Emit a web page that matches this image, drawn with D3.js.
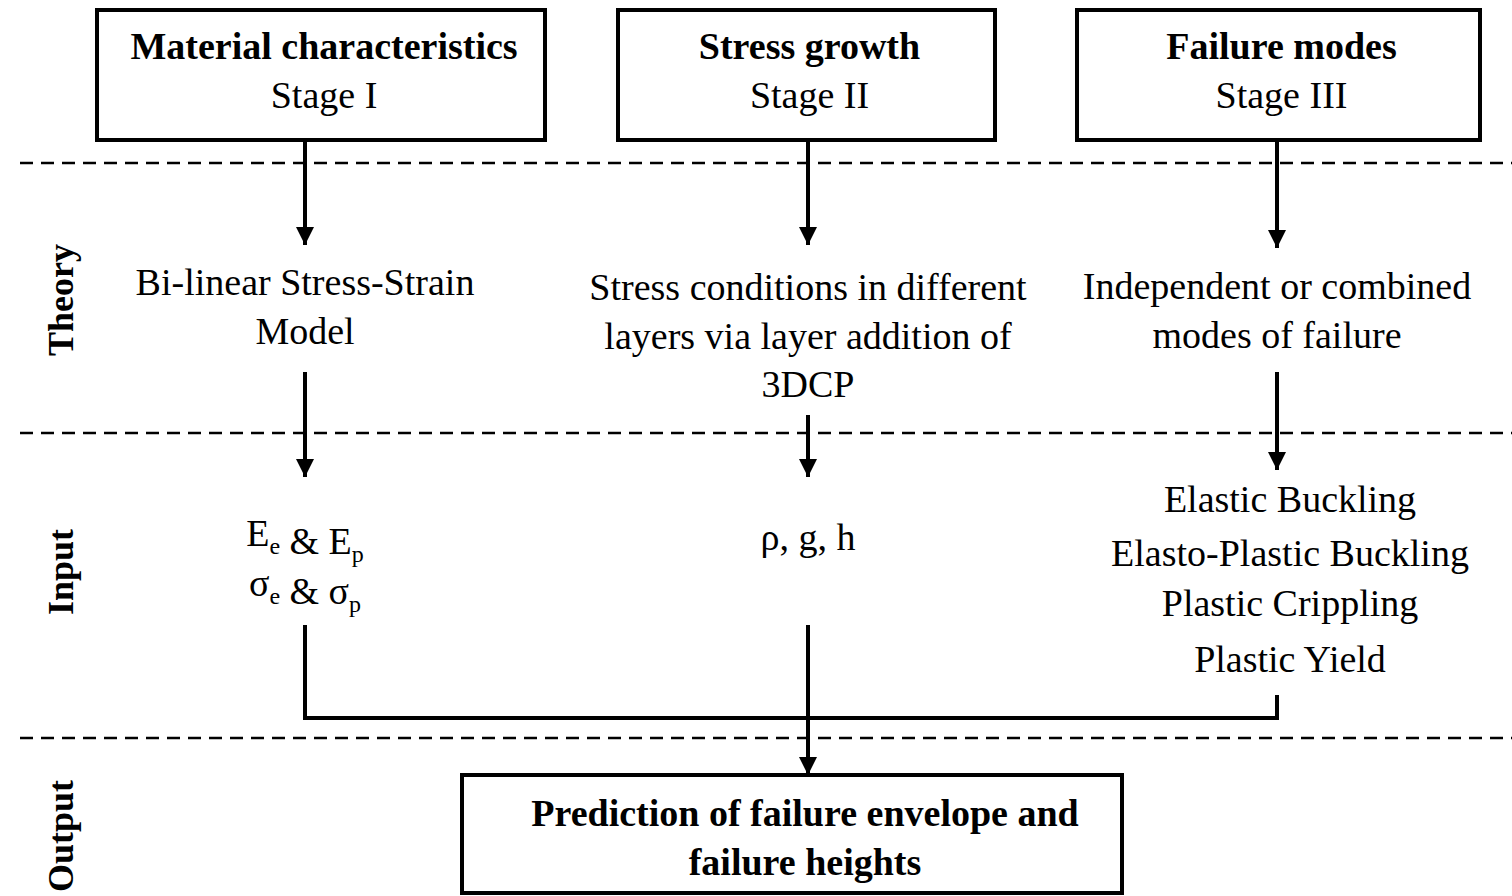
<!DOCTYPE html>
<html>
<head>
<meta charset="utf-8">
<script src="https://cdn.jsdelivr.net/npm/d3@7"></script>
<style>
  body { margin: 0; background: #fff; }
  svg { display: block; font-family: "Liberation Serif", "Times New Roman", serif; }
</style>
</head>
<body>
<svg width="1512" height="896"></svg>
<script>
const stageTitles = ["Material characteristics", "Stress growth", "Failure modes"];
const stageNames = ["Stage I", "Stage II", "Stage III"];
const rowLabels = ["Theory", "Input", "Output"];
const theoryText = [
  ["Bi-linear Stress-Strain", "Model"],
  ["Stress conditions in different", "layers via layer addition of", "3DCP"],
  ["Independent or combined", "modes of failure"]
];
const failureModes = ["Elastic Buckling", "Elasto-Plastic Buckling", "Plastic Crippling", "Plastic Yield"];
const outputText = ["Prediction of failure envelope and", "failure heights"];

const svg = d3.select("svg");
const W = 1512, H = 896;
const FS = 38;

// column centres for arrows, and box extents
const colX = d3.scaleOrdinal().domain([0, 1, 2]).range([305, 808, 1277]);
const boxes = [[97, 545], [618, 995], [1077, 1480]];
const dividers = [163, 433, 738];

svg.append("defs").append("marker")
  .attr("id", "arrow")
  .attr("viewBox", "0 0 10 10")
  .attr("refX", 10).attr("refY", 5)
  .attr("markerWidth", 4.6).attr("markerHeight", 5)
  .attr("markerUnits", "strokeWidth")
  .attr("orient", "auto")
  .append("path").attr("d", "M0,0L10,5L0,10Z").attr("fill", "#000");

// dashed dividers
svg.selectAll(".div").data(dividers).join("line")
  .attr("x1", 20).attr("x2", W)
  .attr("y1", d => d).attr("y2", d => d)
  .attr("stroke", "#000").attr("stroke-width", 2.5)
  .attr("stroke-dasharray", "13,8");

// stage boxes
const stageG = svg.selectAll(".stage").data(stageTitles).join("g");
stageG.append("rect")
  .attr("x", (d, i) => boxes[i][0]).attr("y", 10)
  .attr("width", (d, i) => boxes[i][1] - boxes[i][0]).attr("height", 130)
  .attr("fill", "#fff").attr("stroke", "#000").attr("stroke-width", 4);
stageG.append("text")
  .attr("x", (d, i) => (boxes[i][0] + boxes[i][1]) / 2 + 3).attr("y", 59)
  .attr("text-anchor", "middle").attr("font-size", FS).attr("font-weight", "bold")
  .text(d => d);
stageG.append("text")
  .attr("x", (d, i) => (boxes[i][0] + boxes[i][1]) / 2 + 3).attr("y", 108)
  .attr("text-anchor", "middle").attr("font-size", FS)
  .text((d, i) => stageNames[i]);

// arrows
const arrows = [
  [0, 140, 245], [1, 140, 245], [2, 140, 248],
  [0, 372, 477], [1, 415, 477], [2, 372, 470]
];
svg.selectAll(".arr").data(arrows).join("line")
  .attr("x1", d => colX(d[0])).attr("x2", d => colX(d[0]))
  .attr("y1", d => d[1]).attr("y2", d => d[2])
  .attr("stroke", "#000").attr("stroke-width", 4)
  .attr("marker-end", "url(#arrow)");

// merge lines
svg.append("path")
  .attr("d", `M${colX(0)},625V718H${colX(2)}V695`)
  .attr("fill", "none").attr("stroke", "#000").attr("stroke-width", 4);

// theory text
const theoryY = [[295, 344], [300, 349, 397], [299, 348]];
theoryText.forEach((lines, i) => {
  svg.selectAll(null).data(lines).join("text")
    .attr("x", colX(i)).attr("y", (d, j) => theoryY[i][j])
    .attr("text-anchor", "middle").attr("font-size", FS)
    .text(d => d);
});

// input text, column 1 with subscripts
function subText(y, parts) {
  const t = svg.append("text").attr("x", colX(0)).attr("y", y)
    .attr("text-anchor", "middle").attr("font-size", FS);
  parts.forEach(p => {
    t.append("tspan").attr("dy", 0).text(p[0]);
    t.append("tspan").attr("font-size", 24).attr("dy", 8).text(p[1]);
    t.append("tspan").attr("dy", -8).text("");
  });
}
subText(546, [["E", "e"], [" & E", "p"]]);
subText(596, [["σ", "e"], [" & σ", "p"]]);

svg.append("text").attr("x", colX(1)).attr("y", 550)
  .attr("text-anchor", "middle").attr("font-size", FS).text("ρ, g, h");

const modeY = [512, 566, 616, 672];
svg.selectAll(".mode").data(failureModes).join("text")
  .attr("x", 1290).attr("y", (d, i) => modeY[i])
  .attr("text-anchor", "middle").attr("font-size", FS)
  .text(d => d);

// output box
svg.append("rect")
  .attr("x", 462).attr("y", 775).attr("width", 660).attr("height", 118)
  .attr("fill", "#fff").attr("stroke", "#000").attr("stroke-width", 4);
svg.selectAll(".out").data(outputText).join("text")
  .attr("x", 805).attr("y", (d, i) => 826 + i * 49)
  .attr("text-anchor", "middle").attr("font-size", FS).attr("font-weight", "bold")
  .text(d => d);

// final arrow into output box
svg.append("line")
  .attr("x1", colX(1)).attr("x2", colX(1)).attr("y1", 625).attr("y2", 775)
  .attr("stroke", "#000").attr("stroke-width", 4)
  .attr("marker-end", "url(#arrow)");

// row labels
const labelY = [300, 572, 836];
svg.selectAll(".lab").data(rowLabels).join("text")
  .attr("transform", (d, i) => `translate(73,${labelY[i]}) rotate(-90)`)
  .attr("text-anchor", "middle").attr("font-size", 36).attr("font-weight", "bold")
  .text(d => d);
</script>
</body>
</html>
